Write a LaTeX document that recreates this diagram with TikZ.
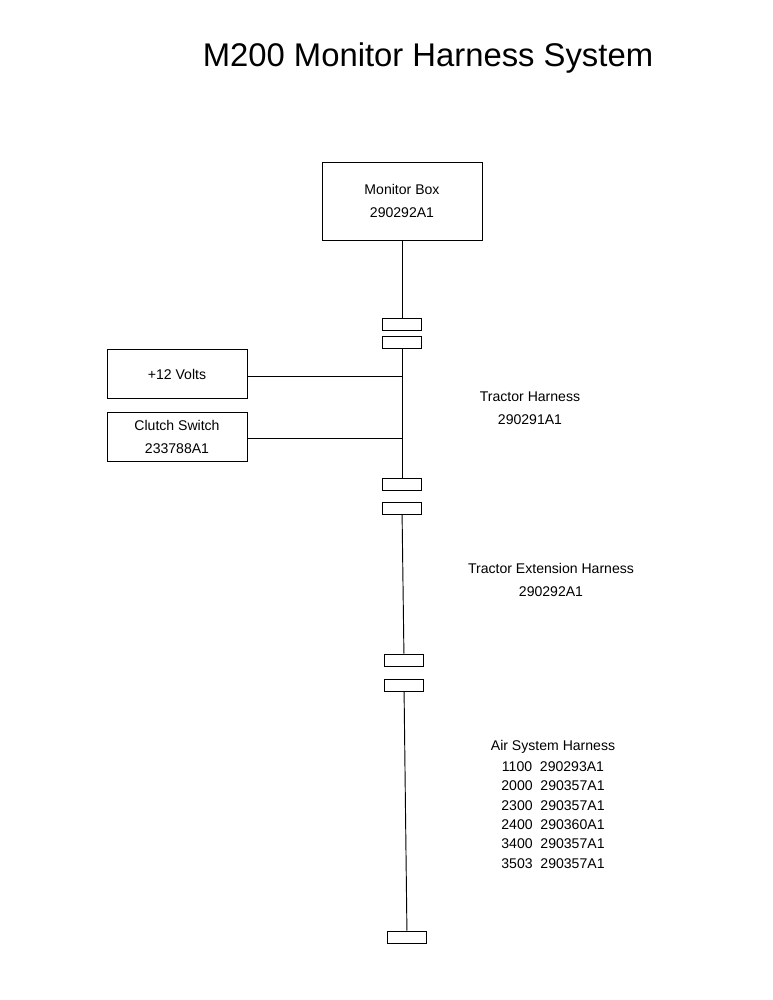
\documentclass[tikz,border=0pt]{standalone}
\usepackage{fontspec}
\setmainfont{Liberation Sans}
\usetikzlibrary{positioning}
\tikzset{box/.style={draw, thick, minimum width=4.2cm, minimum height=1.45cm, align=center, font=\fontsize{12}{19}\selectfont},
	plug/.style={draw, thick, minimum width=1.17cm, minimum height=0.36cm, inner sep=0pt},
	lbl/.style={align=center, font=\fontsize{12}{20}\selectfont}
}
\begin{document}
\begin{tikzpicture}[x=0.03cm, y=-0.03cm]
	\useasboundingbox (0,0) rectangle (772,1000);
	\node[font=\fontsize{28}{30}\selectfont] (title) at (428,58) {M200 Monitor Harness System};
	
	\node[box, minimum width=4.8cm, minimum height=2.34cm] (monitor) at (402,201) {Monitor Box\\290292A1};
	\node[box] (volts) at (177,374) {+12 Volts};
	\node[box] (clutch) at (177,437) {Clutch Switch\\233788A1};
	
	\node[plug] (p1) at (402,324) {};
	\node[plug] (p2) at (402,342) {};
	\node[plug] (p3) at (402,484) {};
	\node[plug] (p4) at (402,508) {};
	\node[plug] (p5) at (404,660) {};
	\node[plug] (p6) at (404,685) {};
	\node[plug] (p7) at (407,937) {};
	\coordinate (jv) at (402,376);
	\coordinate (jc) at (402,438);
	
	% draw lines
	\draw[thick] (monitor) -- (p1);
	\draw[thick] (p2) -- (p3);
	\draw[thick] (p4) -- (p5);
	\draw[thick] (p6) -- (p7);
	\draw[thick] (volts.east |- jv) -- (jv);
	\draw[thick] (clutch.east |- jc) -- (jc);
	
	\node[lbl] (tractor) at (530,408) {Tractor Harness\\290291A1};
	\node[lbl] (ext) at (551,580) {Tractor Extension Harness\\290292A1};
	\node[lbl] (air) at (553,747) {Air System Harness};
	\node[lbl, below=0pt of air, font=\fontsize{12}{16.5}\selectfont] (models) {1100\ \ 290293A1\\2000\ \ 290357A1\\2300\ \ 290357A1\\2400\ \ 290360A1\\3400\ \ 290357A1\\3503\ \ 290357A1};
\end{tikzpicture}
\end{document}
